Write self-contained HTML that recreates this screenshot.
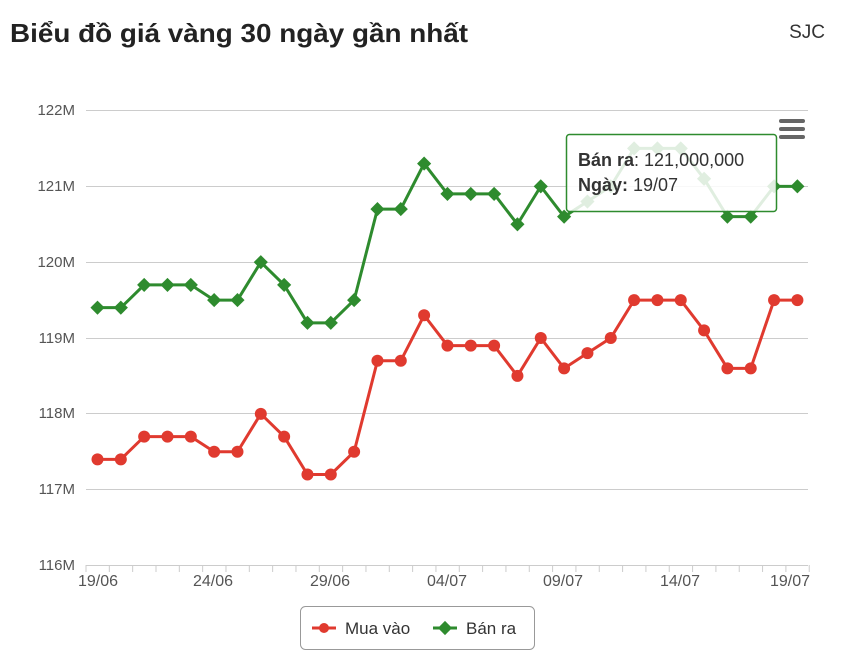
<!DOCTYPE html>
<html><head><meta charset="utf-8"><style>
body{margin:0;background:#fff;width:842px;height:657px;overflow:hidden;font-family:"Liberation Sans",sans-serif;}
</style></head><body>
<svg width="842" height="657" xmlns="http://www.w3.org/2000/svg" font-family="Liberation Sans, DejaVu Sans, sans-serif">
<text x="10" y="42" font-size="26" font-weight="bold" fill="#222" textLength="458" lengthAdjust="spacingAndGlyphs">Biểu đồ giá vàng 30 ngày gần nhất</text>
<text x="825" y="38" font-size="19" fill="#333" text-anchor="end">SJC</text>
<g stroke="#ccc" stroke-width="1">
<line x1="86" x2="808" y1="110.5" y2="110.5"/><line x1="86" x2="808" y1="186.5" y2="186.5"/>
<line x1="86" x2="808" y1="262.5" y2="262.5"/><line x1="86" x2="808" y1="338.5" y2="338.5"/>
<line x1="86" x2="808" y1="413.5" y2="413.5"/><line x1="86" x2="808" y1="489.5" y2="489.5"/>
<line x1="86" x2="808" y1="565.5" y2="565.5"/>
</g>
<g font-size="15" fill="#555" text-anchor="end">
<text x="75" y="115">122M</text><text x="75" y="191">121M</text><text x="75" y="267">120M</text>
<text x="75" y="343">119M</text><text x="75" y="418">118M</text><text x="75" y="494">117M</text><text x="75" y="570">116M</text>
</g>
<g id="ticks" stroke="#ccc"></g>
<g font-size="16" fill="#555" text-anchor="middle">
<text x="98" y="586">19/06</text><text x="213" y="586">24/06</text><text x="330" y="586">29/06</text>
<text x="447" y="586">04/07</text><text x="563" y="586">09/07</text><text x="680" y="586">14/07</text><text x="790" y="586">19/07</text>
</g>
<g id="series"></g>
<g fill="#666"><rect x="779" y="119" width="26" height="4" rx="2"/><rect x="779" y="127" width="26" height="4" rx="2"/><rect x="779" y="135" width="26" height="4" rx="2"/></g>
<rect x="566.5" y="134.5" width="210" height="77" rx="3" fill="#fff" fill-opacity="0.85" stroke="#2e8b2e" stroke-width="1.5"/>
<text x="578" y="166" font-size="18" fill="#333"><tspan font-weight="bold">Bán ra</tspan>: 121,000,000</text>
<text x="578" y="191" font-size="18" fill="#333"><tspan font-weight="bold">Ngày:</tspan> 19/07</text>
<rect x="300.5" y="606.5" width="234" height="43" rx="5" fill="#fff" stroke="#999"/>
<line x1="312" x2="336" y1="628" y2="628" stroke="#e03a2f" stroke-width="3"/><circle cx="324" cy="628" r="5" fill="#e03a2f"/>
<text x="345" y="634" font-size="17" fill="#333">Mua vào</text>
<line x1="433" x2="457" y1="628" y2="628" stroke="#2e8b2e" stroke-width="3"/><rect x="440" y="623" width="10" height="10" fill="#2e8b2e" transform="rotate(45 445 628)"/>
<text x="466" y="634" font-size="17" fill="#333">Bán ra</text>
</svg>
<script>
var ns="http://www.w3.org/2000/svg";
var red=[117.4,117.4,117.7,117.7,117.7,117.5,117.5,118.0,117.7,117.2,117.2,117.5,118.7,118.7,119.3,118.9,118.9,118.9,118.5,119.0,118.6,118.8,119.0,119.5,119.5,119.5,119.1,118.6,118.6,119.5,119.5];
var grn=[119.4,119.4,119.7,119.7,119.7,119.5,119.5,120.0,119.7,119.2,119.2,119.5,120.7,120.7,121.3,120.9,120.9,120.9,120.5,121.0,120.6,120.8,121.0,121.5,121.5,121.5,121.1,120.6,120.6,121.0,121.0];
function X(i){return 97.5+i*23.33;} function Y(v){return 565.5-(v-116)*75.83;}
var t=document.getElementById("ticks");
for(var i=0;i<=31;i++){var l=document.createElementNS(ns,"line");var x=86+i*23.33;l.setAttribute("x1",x);l.setAttribute("x2",x);l.setAttribute("y1",565);l.setAttribute("y2",572);t.appendChild(l);}
var s=document.getElementById("series");
function draw(d,c,dia){var p=d.map(function(v,i){return X(i)+","+Y(v)}).join(" ");
var pl=document.createElementNS(ns,"polyline");pl.setAttribute("points",p);pl.setAttribute("fill","none");pl.setAttribute("stroke",c);pl.setAttribute("stroke-width","3");s.appendChild(pl);
d.forEach(function(v,i){var e;if(dia){e=document.createElementNS(ns,"rect");e.setAttribute("x",X(i)-5);e.setAttribute("y",Y(v)-5);e.setAttribute("width",10);e.setAttribute("height",10);e.setAttribute("transform","rotate(45 "+X(i)+" "+Y(v)+")");}
else{e=document.createElementNS(ns,"circle");e.setAttribute("cx",X(i));e.setAttribute("cy",Y(v));e.setAttribute("r",6);}
e.setAttribute("fill",c);s.appendChild(e);});}
draw(red,"#e03a2f",false);draw(grn,"#2e8b2e",true);
</script>
</body></html>
